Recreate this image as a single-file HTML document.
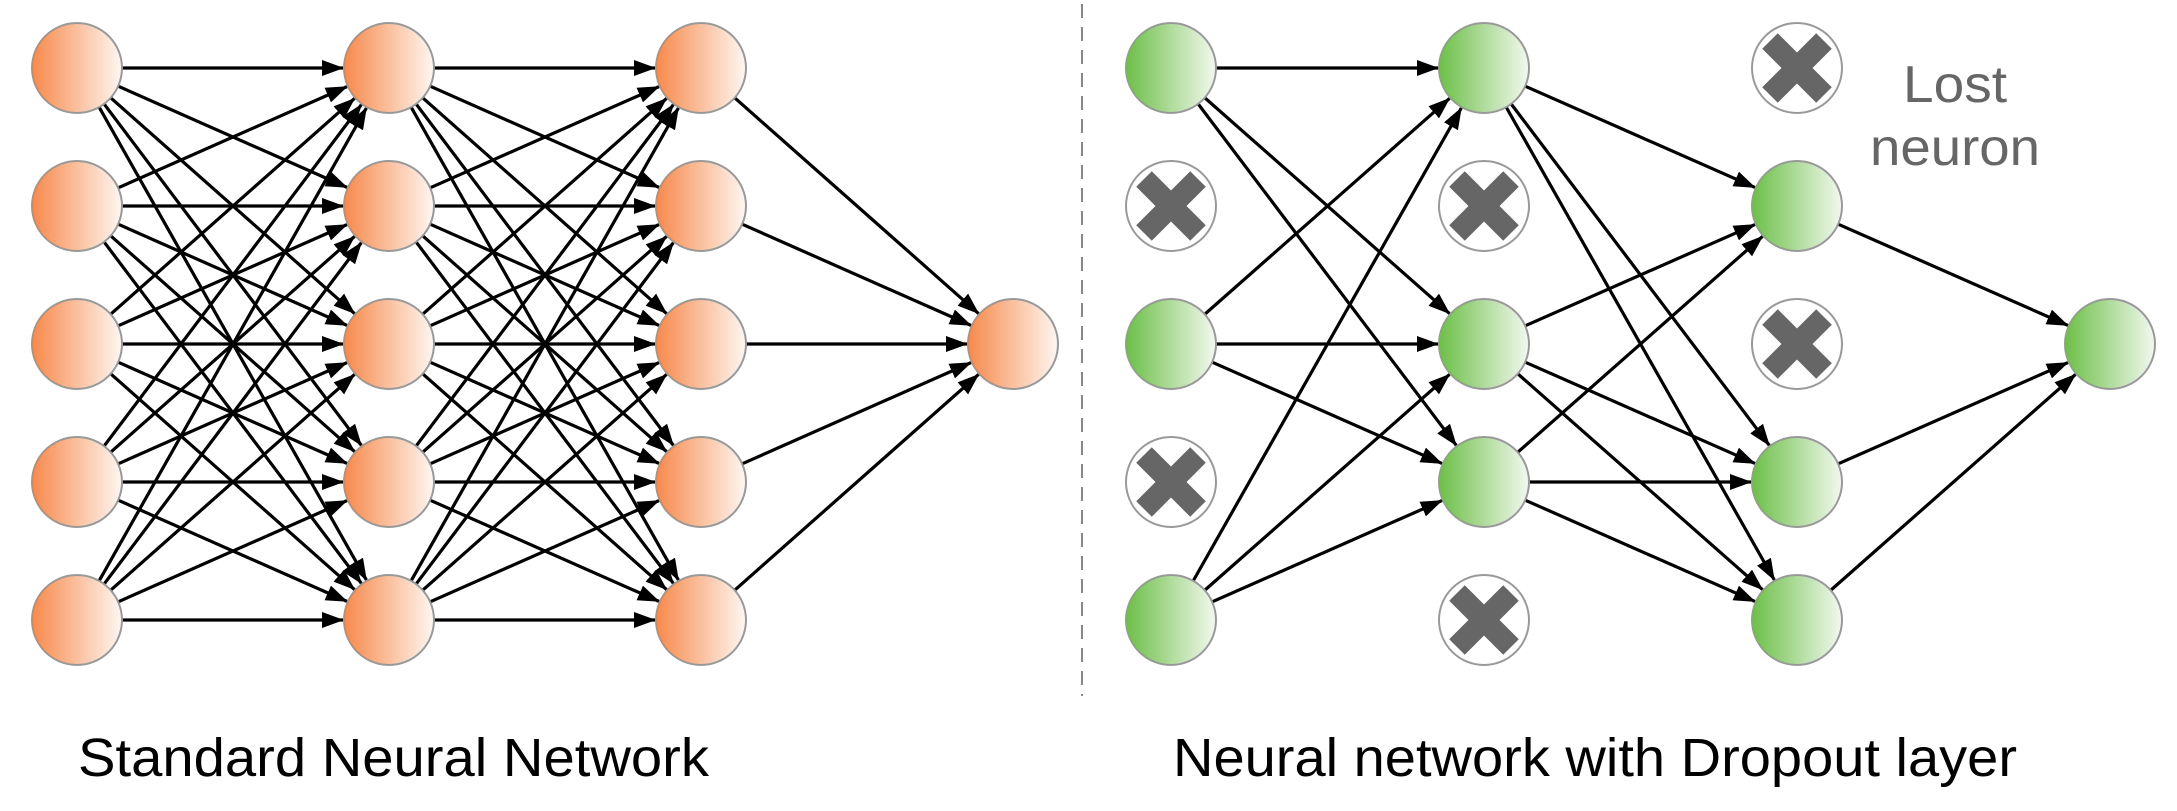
<!DOCTYPE html>
<html><head><meta charset="utf-8"><style>
html,body{margin:0;padding:0;background:#fff;width:2177px;height:811px;overflow:hidden}
svg{display:block}
text{font-family:"Liberation Sans",Arial,sans-serif}
</style></head><body>
<svg id="s" width="2177" height="811" viewBox="0 0 2177 811" xmlns="http://www.w3.org/2000/svg">
<defs>
<linearGradient id="go" x1="0" x2="1" y1="0" y2="0"><stop offset="0" stop-color="#f7894b"/><stop offset="1" stop-color="#fff6f0"/></linearGradient>
<linearGradient id="gg" x1="0" x2="1" y1="0" y2="0"><stop offset="0" stop-color="#6cbf47"/><stop offset="1" stop-color="#f2f9ee"/></linearGradient>
<marker id="ah" markerWidth="22" markerHeight="16" refX="21" refY="8" orient="auto" markerUnits="userSpaceOnUse"><path d="M0,0 L22,8 L0,16 z" fill="#000"/></marker>
</defs>
<line x1="1082" y1="4" x2="1082" y2="696" stroke="#888" stroke-width="2" stroke-dasharray="14,9"/>
<g id="edges" stroke="#000" stroke-width="3.2"></g>
<g id="nodes"></g>
<text x="78" y="776" font-size="54" textLength="631" lengthAdjust="spacingAndGlyphs" fill="#000">Standard Neural Network</text>
<text x="1173" y="776" font-size="54" textLength="844" lengthAdjust="spacingAndGlyphs" fill="#000">Neural network with Dropout layer</text>
<text x="1903" y="102" font-size="52" textLength="104" lengthAdjust="spacingAndGlyphs" fill="#666">Lost</text>
<text x="1870" y="165" font-size="52" textLength="170" lengthAdjust="spacingAndGlyphs" fill="#666">neuron</text>
</svg>
<script>
var NS="http://www.w3.org/2000/svg",R=45;
var ys=[68,206,344,482,620];
var E=document.getElementById("edges"),N=document.getElementById("nodes");
function edge(a,b){var dx=b[0]-a[0],dy=b[1]-a[1],d=Math.hypot(dx,dy),ux=dx/d,uy=dy/d;
var l=document.createElementNS(NS,"line");
l.setAttribute("x1",a[0]+ux*R);l.setAttribute("y1",a[1]+uy*R);
l.setAttribute("x2",b[0]-ux*(R+1));l.setAttribute("y2",b[1]-uy*(R+1));
l.setAttribute("marker-end","url(#ah)");E.appendChild(l);}
function node(x,y,f){var c=document.createElementNS(NS,"circle");c.setAttribute("cx",x);c.setAttribute("cy",y);c.setAttribute("r",R);
c.setAttribute("fill",f);c.setAttribute("stroke","#999");c.setAttribute("stroke-width","2");N.appendChild(c);}
function xnode(x,y){node(x,y,"#fff");var p=document.createElementNS(NS,"path");var s=27;
p.setAttribute("d","M"+(x-s)+","+(y-s)+"L"+(x+s)+","+(y+s)+"M"+(x+s)+","+(y-s)+"L"+(x-s)+","+(y+s));
p.setAttribute("stroke","#666");p.setAttribute("stroke-width","22");N.appendChild(p);}
var L=[77,389,701],OL=[1013,344];
for(var c=0;c<2;c++)for(var i=0;i<5;i++)for(var j=0;j<5;j++)edge([L[c],ys[i]],[L[c+1],ys[j]]);
for(var i=0;i<5;i++)edge([L[2],ys[i]],OL);
for(var c=0;c<3;c++)for(var i=0;i<5;i++)node(L[c],ys[i],"url(#go)");
node(OL[0],OL[1],"url(#go)");
var Rc=[1171,1484,1797],OR=[2110,344];
var act=[[0,2,4],[0,2,3],[1,3,4]];
for(var c=0;c<2;c++)act[c].forEach(function(i){act[c+1].forEach(function(j){edge([Rc[c],ys[i]],[Rc[c+1],ys[j]]);});});
act[2].forEach(function(i){edge([Rc[2],ys[i]],OR);});
for(var c=0;c<3;c++)for(var i=0;i<5;i++){if(act[c].indexOf(i)>=0)node(Rc[c],ys[i],"url(#gg)");else xnode(Rc[c],ys[i]);}
node(OR[0],OR[1],"url(#gg)");
</script>
</body></html>
